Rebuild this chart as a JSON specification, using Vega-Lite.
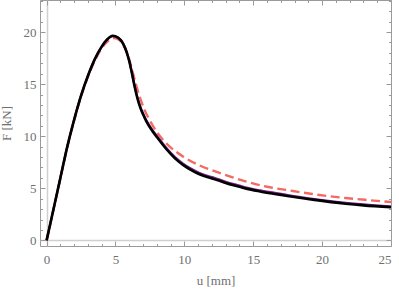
{
  "$schema": "https://vega.github.io/schema/vega-lite/v6.json",
  "width": 351,
  "height": 246,
  "autosize": {"type": "none"},
  "padding": {"left": 40, "top": 0, "right": 8, "bottom": 43},
  "config": {
    "view": {"stroke": "#9a9a9a", "strokeWidth": 1},
    "axis": {
      "labelFont": "Liberation Serif",
      "titleFont": "Liberation Serif",
      "labelFontSize": 13,
      "titleFontSize": 13,
      "labelColor": "#707070",
      "titleColor": "#707070",
      "titleFontWeight": "normal",
      "domain": false,
      "tickColor": "#9a9a9a",
      "gridColor": "#d0d0d0",
      "gridWidth": 1.5
    }
  },
  "data": {
    "values": [
      {"s": "red", "u": 0, "F": 0}, {"s": "red", "u": 0.5, "F": 2.95}, {"s": "red", "u": 1.0, "F": 5.95}, {"s": "red", "u": 1.5, "F": 8.95}, {"s": "red", "u": 2.0, "F": 11.5}, {"s": "red", "u": 2.5, "F": 13.8}, {"s": "red", "u": 3.0, "F": 15.7}, {"s": "red", "u": 3.5, "F": 17.25}, {"s": "red", "u": 4.0, "F": 18.45}, {"s": "red", "u": 4.5, "F": 19.2}, {"s": "red", "u": 4.9, "F": 19.42}, {"s": "red", "u": 5.3, "F": 19.2}, {"s": "red", "u": 5.6, "F": 18.7}, {"s": "red", "u": 5.9, "F": 17.8}, {"s": "red", "u": 6.2, "F": 16.4}, {"s": "red", "u": 6.5, "F": 14.9}, {"s": "red", "u": 6.8, "F": 13.6}, {"s": "red", "u": 7.1, "F": 12.55}, {"s": "red", "u": 7.5, "F": 11.5}, {"s": "red", "u": 8.0, "F": 10.4}, {"s": "red", "u": 8.7, "F": 9.3}, {"s": "red", "u": 9.9, "F": 8.05}, {"s": "red", "u": 11.1, "F": 7.2}, {"s": "red", "u": 12.4, "F": 6.55}, {"s": "red", "u": 13.5, "F": 6.05}, {"s": "red", "u": 14.5, "F": 5.65}, {"s": "red", "u": 16.0, "F": 5.15}, {"s": "red", "u": 17.6, "F": 4.8}, {"s": "red", "u": 19.3, "F": 4.45}, {"s": "red", "u": 21.7, "F": 4.07}, {"s": "red", "u": 23.5, "F": 3.85}, {"s": "red", "u": 25.0, "F": 3.68},
      {"s": "purple", "u": 0, "F": 0}, {"s": "purple", "u": 0.5, "F": 3.0}, {"s": "purple", "u": 1.0, "F": 6.0}, {"s": "purple", "u": 1.5, "F": 9.0}, {"s": "purple", "u": 2.0, "F": 11.6}, {"s": "purple", "u": 2.5, "F": 13.9}, {"s": "purple", "u": 3.0, "F": 15.8}, {"s": "purple", "u": 3.5, "F": 17.4}, {"s": "purple", "u": 4.0, "F": 18.6}, {"s": "purple", "u": 4.4, "F": 19.3}, {"s": "purple", "u": 4.8, "F": 19.6}, {"s": "purple", "u": 5.2, "F": 19.45}, {"s": "purple", "u": 5.55, "F": 18.9}, {"s": "purple", "u": 5.8, "F": 18.15}, {"s": "purple", "u": 6.0, "F": 17.25}, {"s": "purple", "u": 6.2, "F": 16.05}, {"s": "purple", "u": 6.4, "F": 14.8}, {"s": "purple", "u": 6.6, "F": 13.7}, {"s": "purple", "u": 6.8, "F": 12.85}, {"s": "purple", "u": 7.0, "F": 12.2}, {"s": "purple", "u": 7.25, "F": 11.5}, {"s": "purple", "u": 7.7, "F": 10.55}, {"s": "purple", "u": 8.1, "F": 9.87}, {"s": "purple", "u": 8.7, "F": 8.87}, {"s": "purple", "u": 9.3, "F": 8.02}, {"s": "purple", "u": 9.9, "F": 7.37}, {"s": "purple", "u": 10.5, "F": 6.87}, {"s": "purple", "u": 11.1, "F": 6.47}, {"s": "purple", "u": 12.0, "F": 6.07}, {"s": "purple", "u": 12.5, "F": 5.87}, {"s": "purple", "u": 13.0, "F": 5.62}, {"s": "purple", "u": 14.0, "F": 5.26}, {"s": "purple", "u": 14.5, "F": 5.08}, {"s": "purple", "u": 15.5, "F": 4.8}, {"s": "purple", "u": 16.9, "F": 4.49}, {"s": "purple", "u": 17.6, "F": 4.33}, {"s": "purple", "u": 19.3, "F": 4.0}, {"s": "purple", "u": 21.7, "F": 3.61}, {"s": "purple", "u": 23.0, "F": 3.45}, {"s": "purple", "u": 25.0, "F": 3.26},
      {"s": "black", "u": 0, "F": 0}, {"s": "black", "u": 0.5, "F": 3.0}, {"s": "black", "u": 1.0, "F": 6.0}, {"s": "black", "u": 1.5, "F": 9.0}, {"s": "black", "u": 2.0, "F": 11.6}, {"s": "black", "u": 2.5, "F": 13.9}, {"s": "black", "u": 3.0, "F": 15.8}, {"s": "black", "u": 3.5, "F": 17.4}, {"s": "black", "u": 4.0, "F": 18.6}, {"s": "black", "u": 4.4, "F": 19.3}, {"s": "black", "u": 4.8, "F": 19.65}, {"s": "black", "u": 5.2, "F": 19.45}, {"s": "black", "u": 5.55, "F": 18.9}, {"s": "black", "u": 5.8, "F": 18.1}, {"s": "black", "u": 6.0, "F": 17.2}, {"s": "black", "u": 6.2, "F": 16.0}, {"s": "black", "u": 6.4, "F": 14.7}, {"s": "black", "u": 6.6, "F": 13.6}, {"s": "black", "u": 6.8, "F": 12.75}, {"s": "black", "u": 7.0, "F": 12.1}, {"s": "black", "u": 7.25, "F": 11.4}, {"s": "black", "u": 7.7, "F": 10.45}, {"s": "black", "u": 8.1, "F": 9.75}, {"s": "black", "u": 8.7, "F": 8.75}, {"s": "black", "u": 9.3, "F": 7.9}, {"s": "black", "u": 9.9, "F": 7.25}, {"s": "black", "u": 10.5, "F": 6.75}, {"s": "black", "u": 11.1, "F": 6.35}, {"s": "black", "u": 12.0, "F": 5.95}, {"s": "black", "u": 12.5, "F": 5.75}, {"s": "black", "u": 13.0, "F": 5.5}, {"s": "black", "u": 14.0, "F": 5.15}, {"s": "black", "u": 14.5, "F": 4.97}, {"s": "black", "u": 15.5, "F": 4.7}, {"s": "black", "u": 16.9, "F": 4.39}, {"s": "black", "u": 17.6, "F": 4.23}, {"s": "black", "u": 19.3, "F": 3.91}, {"s": "black", "u": 21.7, "F": 3.52}, {"s": "black", "u": 23.0, "F": 3.36}, {"s": "black", "u": 25.0, "F": 3.18}
    ]
  },
  "encoding": {
    "x": {"field": "u", "type": "quantitative", "axis": null, "scale": {"domain": [-0.48, 25], "nice": false, "zero": false}},
    "y": {"field": "F", "type": "quantitative", "axis": null, "scale": {"domain": [-0.54, 23.08], "nice": false, "zero": false}}
  },
  "layer": [
    {
      "transform": [{"filter": "datum.s === 'red'"}],
      "mark": {"type": "line", "color": "#f26a63", "strokeWidth": 2.4, "strokeDash": [9, 4.5], "interpolate": "monotone"},
      "encoding": {
        "x": {"field": "u", "type": "quantitative", "axis": {"orient": "bottom", "title": "u [mm]", "titlePadding": 8, "values": [0,1,2,3,4,5,6,7,8,9,10,11,12,13,14,15,16,17,18,19,20,21,22,23,24,25], "labelExpr": "datum.value % 5 === 0 ? datum.label : ''", "tickSize": {"condition": {"test": "datum.value % 5 === 0", "value": -5}, "value": -2.5}, "labelPadding": 12, "grid": true, "gridOpacity": {"condition": {"test": "datum.value === 0", "value": 1}, "value": 0}}},
        "y": {"field": "F", "type": "quantitative", "axis": {"orient": "left", "title": "F [kN]", "titlePadding": 10, "values": [0,1,2,3,4,5,6,7,8,9,10,11,12,13,14,15,16,17,18,19,20,21,22,23], "labelExpr": "datum.value % 5 === 0 ? datum.label : ''", "tickSize": {"condition": {"test": "datum.value % 5 === 0", "value": -5}, "value": -2.5}, "labelPadding": 9, "grid": true, "gridOpacity": {"condition": {"test": "datum.value === 0", "value": 1}, "value": 0}}}
      }
    },
    {
      "transform": [{"filter": "datum.s === 'purple'"}],
      "mark": {"type": "line", "color": "#7a1f8c", "strokeWidth": 2.2, "interpolate": "monotone"},
      "encoding": {
        "x": {"field": "u", "type": "quantitative", "axis": {"orient": "top", "title": null, "labels": false, "values": [0,1,2,3,4,5,6,7,8,9,10,11,12,13,14,15,16,17,18,19,20,21,22,23,24,25], "tickSize": {"condition": {"test": "datum.value % 5 === 0", "value": -5}, "value": -2.5}}},
        "y": {"field": "F", "type": "quantitative", "axis": {"orient": "right", "title": null, "labels": false, "values": [0,1,2,3,4,5,6,7,8,9,10,11,12,13,14,15,16,17,18,19,20,21,22,23], "tickSize": {"condition": {"test": "datum.value % 5 === 0", "value": -5}, "value": -2.5}}}
      }
    },
    {
      "transform": [{"filter": "datum.s === 'black'"}],
      "mark": {"type": "line", "color": "#000000", "strokeWidth": 2.6, "interpolate": "monotone"},
      "encoding": {}
    }
  ],
  "resolve": {"axis": {"x": "independent", "y": "independent"}}
}
